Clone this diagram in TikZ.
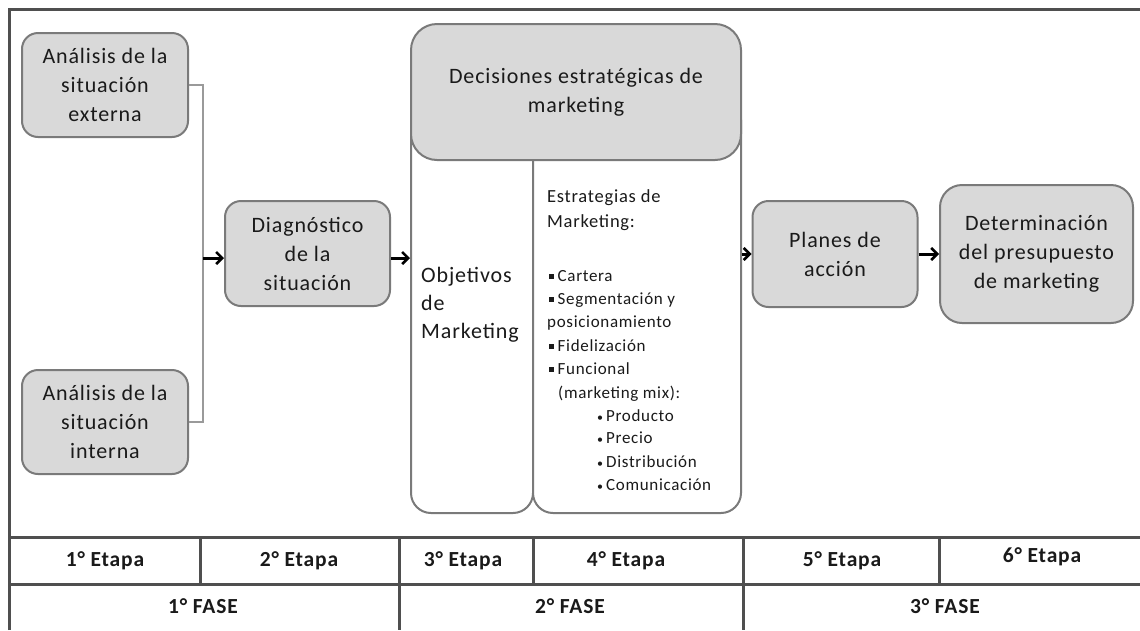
\documentclass[tikz,border=0pt]{standalone}
\usepackage{fontspec}
\setmainfont{Carlito}[LetterSpace=4]
\usetikzlibrary{arrows.meta}

\definecolor{framecol}{HTML}{4F4F4F}
\definecolor{boxline}{HTML}{7A7A7A}
\definecolor{boxfill}{HTML}{D9D9D9}
\definecolor{txt}{HTML}{1A1A1A}
\definecolor{joinline}{HTML}{9A9A9A}

\newcommand\sqbul{\rule[2.5pt]{4.5pt}{4.5pt}\hspace{4pt}}
\newcommand\dotbul{\raisebox{0pt}{\fontsize{12}{12}\selectfont •}\hspace{3pt}}

\begin{document}
\begin{tikzpicture}[x=1pt,y=-1pt,
  every node/.style={text=txt},
  graybox/.style={draw=boxline,line width=2pt,fill=boxfill,rounded corners=16pt,
    align=center,inner sep=0pt,font=\fontsize{22}{29}\selectfont},
  colbox/.style={draw=boxline,line width=2pt,fill=white,rounded corners=20pt,inner sep=0pt},
  frameline/.style={draw=framecol,line width=3pt},
  joinstyle/.style={draw=joinline,line width=1.2pt},
  flow/.style={draw=black,line width=3pt,
    -{Straight Barb[length=6pt,width=12pt,line width=2.6pt]}},
  celltext/.style={font=\bfseries\fontsize{21.5}{24}\selectfont,inner sep=0pt},
  coltext/.style={anchor=base west,inner sep=0pt,font=\fontsize{17}{20}\selectfont},
  objtext/.style={anchor=base west,inner sep=0pt,font=\fontsize{22}{28}\selectfont},
  ]
\useasboundingbox (0,0) rectangle (1140,630);
\fill[white] (0,0) rectangle (1140,630);

% outer frame and the stage/phase table
\draw[frameline] (9,630) -- (9,9) -- (1140,9);
\draw[frameline] (9,537) -- (1140,537);
\draw[frameline] (9,584) -- (1140,584);
\draw[frameline] (200,537) -- (200,584);
\draw[frameline] (399,537) -- (399,630);
\draw[frameline] (533,537) -- (533,584);
\draw[frameline] (743,537) -- (743,630);
\draw[frameline] (939,537) -- (939,584);

\node[celltext] (e1) at (105,561) {1° Etapa};
\node[celltext] (e2) at (299,561) {2° Etapa};
\node[celltext] (e3) at (463,561) {3° Etapa};
\node[celltext] (e4) at (626,561) {4° Etapa};
\node[celltext] (e5) at (842,561) {5° Etapa};
\node[celltext] (e6) at (1042,557) {6° Etapa};
\node[celltext] (f1) at (203,606) {1° FASE};
\node[celltext] (f2) at (570,606) {2° FASE};
\node[celltext] (f3) at (945,606) {3° FASE};

% analysis boxes and diagnosis
\node[graybox,minimum width=166pt,minimum height=104pt] (ext) at (105,85)
  {Análisis de la\\situación\\externa};
\node[graybox,minimum width=166pt,minimum height=104pt] (int) at (105,422)
  {Análisis de la\\situación\\interna};
\node[graybox,minimum width=165pt,minimum height=105pt] (diag) at (307.5,253.5)
  {Diagnóstico\\de la\\situación};

% strategic decisions block: two white columns under a gray header
\node[colbox,minimum width=122pt,minimum height=413pt] (obj) at (472,306.5) {};
\node[colbox,minimum width=208pt,minimum height=413pt] (estr) at (637,306.5) {};
\node[graybox,rounded corners=26pt,minimum width=330pt,minimum height=136pt] (dec) at (576,92)
  {Decisiones estratégicas de\\marketing};

\node[objtext] (objt1) at (421,282) {Objetivos};
\node[objtext] (objt2) at (421,310) {de};
\node[objtext] (objt3) at (421,338) {Marketing};

\node[coltext,font=\fontsize{18.5}{22}\selectfont] (s1) at (547,202) {Estrategias de};
\node[coltext,font=\fontsize{18.5}{22}\selectfont] (s2) at (547,227) {Marketing:};
\node[coltext] (s3) at (549,281) {\sqbul Cartera};
\node[coltext] (s4) at (549,304) {\sqbul Segmentación y};
\node[coltext] (s5) at (547,327) {posicionamiento};
\node[coltext] (s6) at (549,351) {\sqbul Fidelización};
\node[coltext] (s7) at (549,374) {\sqbul Funcional};
\node[coltext] (s8) at (558,398) {(marketing mix):};
\node[coltext] (s9) at (597,421) {\dotbul Producto};
\node[coltext] (s10) at (597,443) {\dotbul Precio};
\node[coltext] (s11) at (597,467) {\dotbul Distribución};
\node[coltext] (s12) at (597,490) {\dotbul Comunicación};

% action plans and budget
\node[graybox,minimum width=165pt,minimum height=106pt] (planes) at (835,254)
  {Planes de\\acción};
\node[graybox,rounded corners=22pt,minimum width=193pt,minimum height=138pt] (det) at (1036.5,254)
  {Determinación\\del presupuesto\\de marketing};

% connectors
\coordinate (j) at (203,258);
\draw[joinstyle] (ext.east) -| (j) |- (int.east);
\draw[flow] (j) -- (j -| diag.west);
\draw[flow] (diag.east |- j) -- (obj.west |- j);
\draw[flow] (estr.east |- planes.west) -- (planes.west);
\draw[flow] (planes.east) -- (det.west);
\end{tikzpicture}
\end{document}
